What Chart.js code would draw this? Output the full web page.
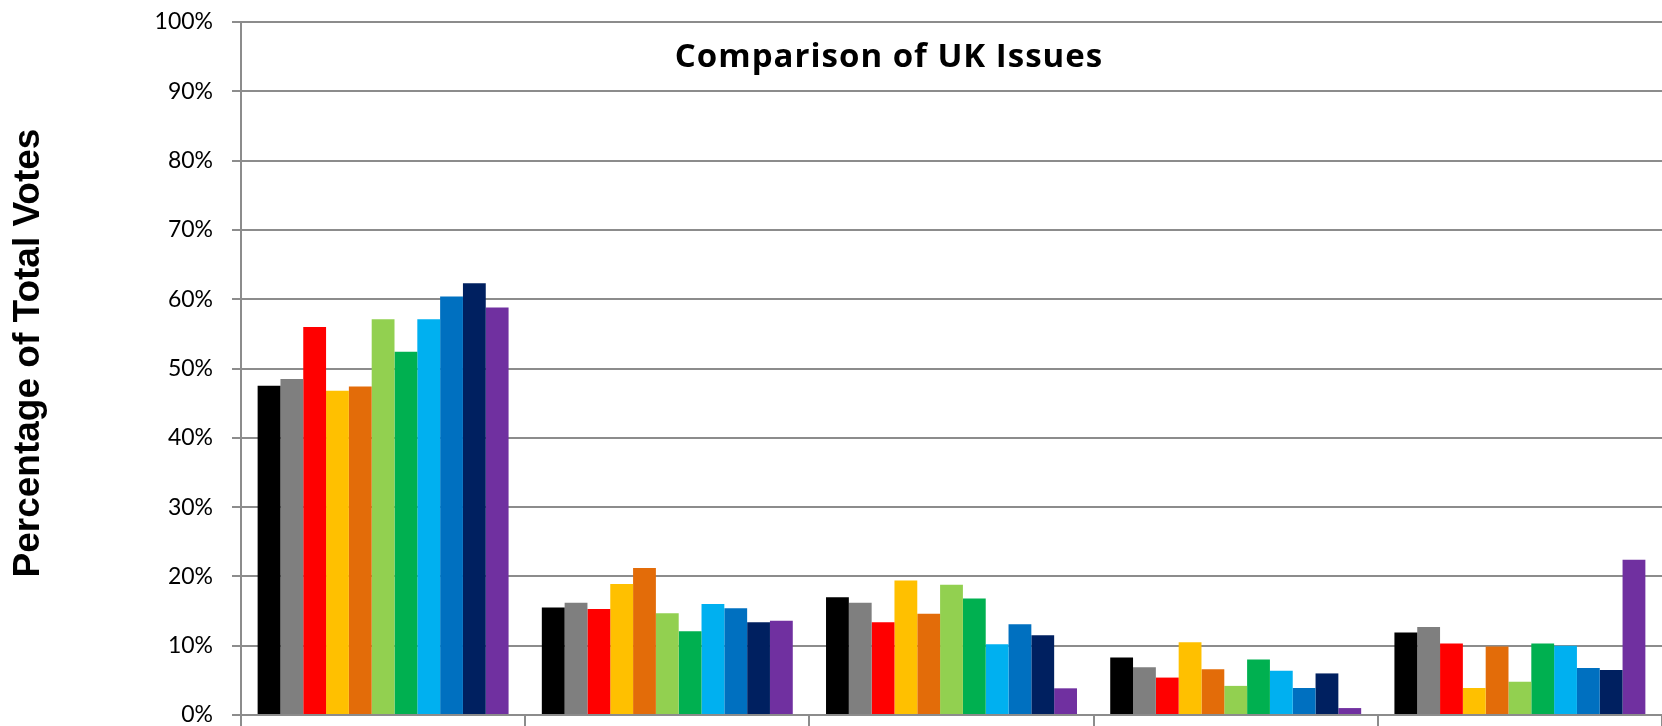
<!DOCTYPE html>
<html>
<head>
<meta charset="utf-8">
<title>Comparison of UK Issues</title>
<script src="https://cdn.jsdelivr.net/npm/chart.js@4/dist/chart.umd.min.js"></script>
<style>
  html, body { margin: 0; padding: 0; background: #ffffff; overflow: hidden; }
  #wrap { position: relative; width: 1662px; height: 726px; }
</style>
</head>
<body>
<div id="wrap"><canvas id="issuesChart"></canvas></div>
<script>
// category names are cut off at the bottom of the picture
const categories = ["Issue 1", "Issue 2", "Issue 3", "Issue 4", "Issue 5"];

const seriesNames = [
  "Series 1", "Series 2", "Series 3", "Series 4", "Series 5", "Series 6",
  "Series 7", "Series 8", "Series 9", "Series 10", "Series 11",
];

const seriesColors = [
  "#000000", "#7f7f7f", "#ff0000", "#ffc000", "#e36c09", "#92d050",
  "#00b050", "#00b0f0", "#0070c0", "#002060", "#7030a0",
];

// percentage of total votes, one array per series
const series1 = [47.5, 15.5, 17.0, 8.3, 11.9];
const series2 = [48.5, 16.2, 16.2, 6.9, 12.7];
const series3 = [56.0, 15.3, 13.4, 5.4, 10.3];
const series4 = [46.8, 18.9, 19.4, 10.5, 3.9];
const series5 = [47.4, 21.2, 14.6, 6.6, 9.9];
const series6 = [57.1, 14.7, 18.8, 4.2, 4.8];
const series7 = [52.4, 12.1, 16.8, 8.0, 10.3];
const series8 = [57.1, 16.0, 10.2, 6.4, 10.0];
const series9 = [60.4, 15.4, 13.1, 3.9, 6.8];
const series10 = [62.3, 13.4, 11.5, 6.0, 6.5];
const series11 = [58.8, 13.6, 3.85, 1.0, 22.4];

const yTicks = [0, 10, 20, 30, 40, 50, 60, 70, 80, 90, 100];

const chartTitle = "Comparison of UK Issues";
const yAxisTitle = "Percentage of Total Votes";

const gridColor = "#8c8c8c";

const allSeries = [
  series1, series2, series3, series4, series5, series6,
  series7, series8, series9, series10, series11,
];

// titles sit inside / beside the plot, so draw them by hand
const titlePlugin = {
  id: "titles",
  afterDraw(chart) {
    const ctx = chart.ctx;
    ctx.save();
    ctx.fillStyle = "#000000";
    ctx.font = "bold 33px 'Open Sans'";
    ctx.letterSpacing = "1px";
    ctx.textAlign = "center";
    ctx.textBaseline = "alphabetic";
    ctx.fillText(chartTitle, 889, 67);
    ctx.restore();

    ctx.save();
    ctx.fillStyle = "#000000";
    ctx.font = "bold 37px 'Liberation Sans', Arial";
    ctx.textAlign = "center";
    ctx.textBaseline = "middle";
    ctx.translate(29, 353);
    ctx.rotate(-Math.PI / 2);
    ctx.fillText(yAxisTitle, 0, 0);
    ctx.restore();
  },
};

function buildDatasets() {
  return allSeries.map((values, i) => ({
    label: seriesNames[i],
    data: values,
    backgroundColor: seriesColors[i],
    borderWidth: 0,
    categoryPercentage: 0.883,
    barPercentage: 1.0,
  }));
}

const ctx = document.getElementById("issuesChart").getContext("2d");

new Chart(ctx, {
  type: "bar",
  data: {
    labels: categories,
    datasets: buildDatasets(),
  },
  options: {
    responsive: true,
    maintainAspectRatio: false,
    animation: false,
    layout: {
      padding: { top: 22, right: 0, bottom: 0, left: 0 },
    },
    plugins: {
      legend: { display: false },
      title: { display: false },
      tooltip: { enabled: false },
    },
    scales: {
      x: {
        ticks: { display: false },
        grid: {
          offset: true,
          drawOnChartArea: false,
          drawTicks: true,
          tickLength: 20,
          color: gridColor,
          lineWidth: 2,
        },
        border: { color: gridColor, width: 2 },
        afterFit(scale) {
          scale.height = 11;
        },
      },
      y: {
        min: 0,
        max: 100,
        afterBuildTicks(scale) {
          scale.ticks = yTicks.map((v) => ({ value: v }));
        },
        ticks: {
          padding: 19,
          color: "#000000",
          font: { family: "Lato", size: 23 },
          callback: (value) => value + "%",
        },
        grid: {
          color: gridColor,
          lineWidth: 2,
          tickLength: 9,
        },
        border: { color: gridColor, width: 2 },
        afterFit(scale) {
          // keep the plot box where the original has it
          scale.width = 241;
          scale.paddingTop = 0;
          scale.paddingBottom = 0;
        },
      },
    },
  },
  plugins: [titlePlugin],
});
</script>
</body>
</html>
